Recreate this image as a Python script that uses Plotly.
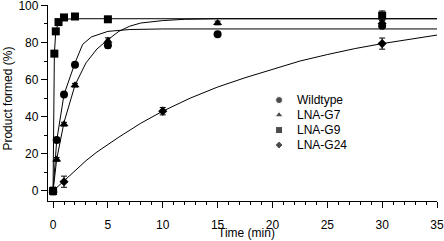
import plotly.graph_objects as go

# ---- measured data points ----
wt_t = [0, 0.33, 1, 2, 5, 15, 30]
wt_y = [0, 27.5, 52, 68, 78.5, 84.5, 89]
wt_e = [1, 1, 1, 1, 1.5, 1, 1]

g7_t = [0, 0.33, 1, 2, 5, 15, 30]
g7_y = [0, 17, 36, 57, 81, 90.5, 91]
g7_e = [1, 1, 1, 1, 1.5, 1, 1]

g9_t = [0, 0.12, 0.25, 0.5, 1, 2, 5, 30]
g9_y = [0, 74, 86, 91, 93.5, 94, 92.5, 94.5]
g9_e = [2, 1, 1, 1, 1, 1, 1.5, 2.5]

g24_t = [0, 1, 10, 30]
g24_y = [0, 5, 43, 79.4]
g24_e = [2, 3, 2, 3]

# ---- fitted curves ----
wt_fit_t = [0, 0.33, 1, 2, 2.7, 3.5, 5, 7, 10, 35]
wt_fit_y = [0, 27, 52, 69, 79, 83, 86, 87, 87.3, 87.3]

g7_fit_t = [0, 0.33, 1, 2, 3, 4, 5, 6, 7, 8, 10, 12, 15, 35]
g7_fit_y = [0, 17, 37, 57, 69, 76.5, 81.5, 86, 88.8, 90.5, 91.8, 92.5, 92.8, 92.8]

g9_fit_t = [0, 0.12, 0.25, 0.5, 1, 2, 35]
g9_fit_y = [0, 74, 86, 91, 92.5, 92.8, 92.8]

g24_fit_t = [0, 1, 2, 3, 4, 5, 6, 8, 10, 12.5, 15, 17.5, 20, 22.5, 25, 27.5, 30, 32.5, 35]
g24_fit_y = [0, 5.5, 11, 16.3, 21, 25, 29, 36.5, 43, 50, 56, 61, 65.5, 70, 73.5, 76.7, 79.4, 81.8, 84]

names = ["Wildtype", "LNA-G7", "LNA-G9", "LNA-G24"]
symbols = ["circle", "triangle-up", "square", "diamond"]
sizes = [8, 8, 8, 7]

# legend layout (fractions of the plot area)
LEG_SYM_X = 0.594
LEG_TXT_X = 0.635
LEG_TOP_Y = 0.515
LEG_STEP = 0.0765

fig = go.Figure()

for ft, fy in [(wt_fit_t, wt_fit_y), (g7_fit_t, g7_fit_y), (g9_fit_t, g9_fit_y), (g24_fit_t, g24_fit_y)]:
    fig.add_trace(go.Scatter(x=ft, y=fy, mode="lines", line=dict(color="black", width=1),
                             showlegend=False, hoverinfo="skip"))

for (t, y, e), name, sym, sz in zip([(wt_t, wt_y, wt_e), (g7_t, g7_y, g7_e), (g9_t, g9_y, g9_e), (g24_t, g24_y, g24_e)],
                                    names, symbols, sizes):
    fig.add_trace(go.Scatter(x=t, y=y, mode="markers", name=name, showlegend=False,
                             marker=dict(symbol=sym, size=sz, color="black"),
                             error_y=dict(type="data", array=e, visible=True, color="black",
                                          thickness=1, width=3)))

# custom legend: symbols on an overlay axis in plot-fraction units, labels as annotations
leg_y = [LEG_TOP_Y - i * LEG_STEP for i in range(len(names))]
fig.add_trace(go.Scatter(x=[LEG_SYM_X] * len(names), y=leg_y, mode="markers",
                         xaxis="x2", yaxis="y2", showlegend=False, hoverinfo="skip",
                         marker=dict(symbol=symbols, size=[7, 7, 7, 6], color="black")))
for name, yy in zip(names, leg_y):
    fig.add_annotation(x=LEG_TXT_X, y=yy, xref="paper", yref="paper", text=name,
                       showarrow=False, xanchor="left", yanchor="middle",
                       font=dict(size=12))

# axis titles as annotations (positioned as in the reference)
fig.add_annotation(x=0.509, y=-0.204, xref="paper", yref="paper", text="Time (min)",
                   showarrow=False, xanchor="center", yanchor="bottom", borderpad=0,
                   font=dict(size=12))
fig.add_annotation(x=-0.1025, y=0.523, xref="paper", yref="paper", text="Product formed (%)",
                   showarrow=False, xanchor="center", yanchor="middle", textangle=-90,
                   borderpad=0, font=dict(size=12))

font_fam = "Arial, Liberation Sans, sans-serif"
fig.update_layout(
    width=444, height=241,
    margin=dict(l=48, r=7, t=5, b=40, autoexpand=False),
    paper_bgcolor="white", plot_bgcolor="white",
    font=dict(family=font_fam, size=12, color="black"),
    showlegend=False,
    xaxis=dict(range=[-0.46, 35], showgrid=False, zeroline=False, automargin=False,
               showline=True, linecolor="black", linewidth=1.3,
               ticks="outside", ticklen=6, tickwidth=1, tickcolor="black",
               tick0=0, dtick=5, ticklabelstandoff=6, tickfont=dict(size=12),
               ticklabeloverflow="allow",
               minor=dict(dtick=1, ticks="outside", ticklen=3, tickcolor="black", tickwidth=1)),
    yaxis=dict(range=[-5.4, 100.2], showgrid=False, zeroline=False, automargin=False,
               showline=True, linecolor="black", linewidth=1.3,
               ticks="outside", ticklen=6, tickwidth=1, tickcolor="black",
               tick0=0, dtick=20, tickfont=dict(size=12),
               ticklabeloverflow="allow",
               minor=dict(dtick=10, ticks="outside", ticklen=3, tickcolor="black", tickwidth=1)),
    xaxis2=dict(range=[0, 1], overlaying="x", visible=False, automargin=False),
    yaxis2=dict(range=[0, 1], overlaying="y", visible=False, automargin=False),
)

fig.write_html("out.html", config={"displayModeBar": False},
               post_script="document.body.style.margin='0';document.body.style.overflow='hidden';")
